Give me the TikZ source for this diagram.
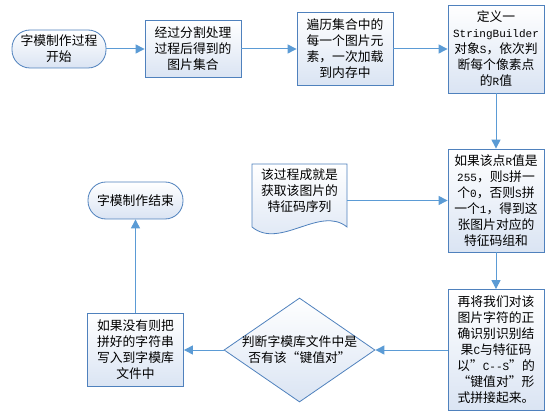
\documentclass[tikz,border=0pt]{standalone}
\usepackage{fontspec}
\setmainfont{Noto Sans CJK SC}
\newfontfamily\monof{Liberation Mono}
\usetikzlibrary{arrows.meta,shapes.geometric}

\definecolor{edgeblue}{RGB}{79,129,189}
\definecolor{lineblue}{RGB}{91,155,213}
\definecolor{fillblue}{RGB}{218,228,243}
\newcommand{\mn}[1]{{\monof\fontsize{11pt}{16pt}\selectfont #1}}

\begin{document}
\begin{tikzpicture}[x=1pt, y=-1pt, >={Triangle[length=9pt,width=9pt]},
  font=\fontsize{12.8pt}{16pt}\selectfont,
  box/.style={draw=edgeblue, line width=0.8pt, top color=white, bottom color=fillblue,
    align=center, inner sep=0pt},
  term/.style={box, rounded corners=18pt},
  decision/.style={diamond, draw=edgeblue, line width=0.8pt, top color=white,
    bottom color=fillblue, minimum width=151pt, minimum height=104pt, inner sep=0pt},
  flow/.style={draw=lineblue, line width=1pt, ->}]
  \useasboundingbox (0,0) rectangle (555,417);

  % top row
  \node[term, minimum width=94pt, minimum height=38pt] (start) at (59,49) {字模制作过程\\开始};
  \node[box, minimum width=96pt, minimum height=57pt] (split) at (193,49) {经过分割处理\\过程后得到的\\图片集合};
  \node[box, minimum width=96pt, minimum height=73pt] (load) at (345,49) {遍历集合中的\\每一个图片元\\素，一次加载\\到内存中};
  \node[box, minimum width=96pt, minimum height=88pt] (define) at (496,49)
    {定义一\\\mn{StringBuilder}\\对象\mn{S}，依次判\\断每个像素点\\的\mn{R}值};

  % middle row
  \node[box, minimum width=96pt, minimum height=103pt] (code) at (496,200.5)
    {如果该点\mn{R}值是\\\mn{255}，则\mn{S}拼一\\个\mn{0}，否则\mn{S}拼\\一个\mn{1}，得到这\\张图片对应的\\特征码组和};
  \path[draw=edgeblue, line width=0.8pt, top color=white, bottom color=fillblue]
    (252,164) -- (347,164) -- (347,227) .. controls (320,205) and (280,250) .. (252,227) -- cycle;
  \node[align=center] (note) at (299.5,191) {该过程成就是\\获取该图片的\\特征码序列};
  \coordinate (noteR) at (347,200.5);
  \node[term, minimum width=95pt, minimum height=37pt] (finish) at (135.5,200.5) {字模制作结束};

  % bottom row
  \node[box, minimum width=96pt, minimum height=121pt] (joint) at (496,350)
    {再将我们对该\\图片字符的正\\确识别识别结\\果\mn{C}与特征码\\以”\mn{C--S}”的\\“键值对”形\\式拼接起来。};
  \node[decision, label={[align=center]center:判断字模库文件中是\\否有该“键值对”}] (judge) at (299.5,350) {};
  \node[box, minimum width=96pt, minimum height=73pt] (write) at (135.5,350)
    {如果没有则把\\拼好的字符串\\写入到字模库\\文件中};

  \draw[flow] (start) -- (split);
  \draw[flow] (split) -- (load);
  \draw[flow] (load) -- (define);
  \draw[flow] (define) -- (code);
  \draw[flow] (noteR) -- (code.west);
  \draw[flow] (code) -- (joint);
  \draw[flow] (joint) -- (judge);
  \draw[flow] (judge) -- (write);
  \draw[flow] (write) -- (finish);
\end{tikzpicture}
\end{document}
